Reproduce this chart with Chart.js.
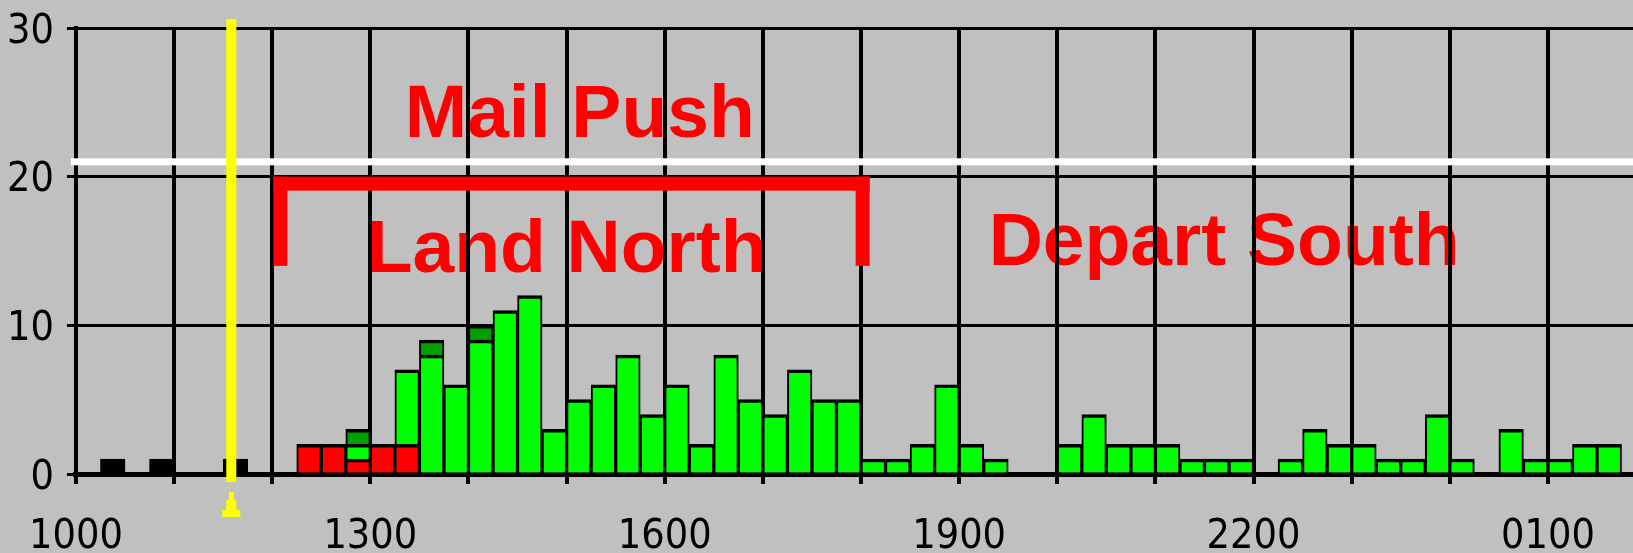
<!DOCTYPE html>
<html>
<head>
<meta charset="utf-8">
<title>Mail Push</title>
<script src="https://cdn.jsdelivr.net/npm/chart.js@4.4.1/dist/chart.umd.min.js"></script>
<style>
  html, body { margin: 0; padding: 0; background: #c0c0c0; }
  canvas { display: block; }
</style>
</head>
<body>
<canvas id="mailChart" width="1633" height="553"></canvas>
<script>
// one value per 15 minute slot, first slot starts at 1000
const hourLabels = ['1000', '1100', '1200', '1300', '1400', '1500', '1600', '1700',
  '1800', '1900', '2000', '2100', '2200', '2300', '0000', '0100'];

const otherFlights = [
  0, 1, 0, 1, 0, 0, 1, 0, 0, 0, 0, 0, 0, 0, 0, 0,
  0, 0, 0, 0, 0, 0, 0, 0, 0, 0, 0, 0, 0, 0, 0, 0,
  0, 0, 0, 0, 0, 0, 0, 0, 0, 0, 0, 0, 0, 0, 0, 0,
  0, 0, 0, 0, 0, 0, 0, 0, 0, 0, 0, 0, 0, 0, 0, 0,
];
const landNorth = [
  0, 0, 0, 0, 0, 0, 0, 0, 0, 2, 2, 1, 2, 2, 0, 0,
  0, 0, 0, 0, 0, 0, 0, 0, 0, 0, 0, 0, 0, 0, 0, 0,
  0, 0, 0, 0, 0, 0, 0, 0, 0, 0, 0, 0, 0, 0, 0, 0,
  0, 0, 0, 0, 0, 0, 0, 0, 0, 0, 0, 0, 0, 0, 0, 0,
];
const departSouth = [
  0, 0, 0, 0, 0, 0, 0, 0, 0, 0, 0, 1, 0, 5, 8, 6,
  9, 11, 12, 3, 5, 6, 8, 4, 6, 2, 8, 5, 4, 7, 5, 5,
  1, 1, 2, 6, 2, 1, 0, 0, 2, 4, 2, 2, 2, 1, 1, 1,
  0, 1, 3, 2, 2, 1, 1, 4, 1, 0, 3, 1, 1, 2, 2, 0,
];
const departSouthLate = [
  0, 0, 0, 0, 0, 0, 0, 0, 0, 0, 0, 1, 0, 0, 1, 0,
  1, 0, 0, 0, 0, 0, 0, 0, 0, 0, 0, 0, 0, 0, 0, 0,
  0, 0, 0, 0, 0, 0, 0, 0, 0, 0, 0, 0, 0, 0, 0, 0,
  0, 0, 0, 0, 0, 0, 0, 0, 0, 0, 0, 0, 0, 0, 0, 0,
];

const capacityLine = 21;      // white line
const nowMinute = 95;         // 1135, yellow marker
const northWindow = [125, 481]; // minutes after 1000
const noteTexts = ['Mail Push', 'Land North', 'Depart South'];

const slot = 15;
const toPoints = (vals) => vals.map((v, i) => ({ x: i * slot + slot / 2, y: v || null }));

function barSet(label, vals, color) {
  return {
    label: label,
    data: toPoints(vals),
    backgroundColor: color,
    borderColor: '#000000',
    borderWidth: { top: 3.5, left: 2, right: 2, bottom: 0 },
    barPercentage: 1,
    categoryPercentage: 1,
  };
}

const axisFont = { family: "'Liberation Sans Narrow', 'DejaVu Sans Condensed', sans-serif", size: 41 };

const backdrop = {
  id: 'backdrop',
  beforeDraw(chart) {
    const { ctx, width, height } = chart;
    const { x, y } = chart.scales;
    ctx.save();
    ctx.fillStyle = '#c0c0c0';
    ctx.fillRect(0, 0, width, height);
    // text sits under the grid, like the original
    ctx.fillStyle = '#ff0000';
    ctx.font = "bold 75px 'Liberation Sans', Arial, sans-serif";
    ctx.textAlign = 'center';
    ctx.textBaseline = 'alphabetic';
    ctx.fillText(noteTexts[0], x.getPixelForValue(308), y.getPixelForValue(22.66));
    ctx.fillText(noteTexts[1], x.getPixelForValue(300), y.getPixelForValue(13.58));
    ctx.fillText(noteTexts[2], x.getPixelForValue(702), y.getPixelForValue(14.06));
    ctx.restore();
  },
};

const overlays = {
  id: 'overlays',
  afterDatasetsDraw(chart) {
    const { ctx, width } = chart;
    const { x, y } = chart.scales;
    ctx.save();

    const ly = y.getPixelForValue(capacityLine);
    ctx.fillStyle = '#ffffff';
    ctx.fillRect(x.left - 5, ly - 3.5, width, 7);

    const bl = x.getPixelForValue(northWindow[0]);
    const br = x.getPixelForValue(northWindow[1]);
    const bt = y.getPixelForValue(20);
    const bb = y.getPixelForValue(14);
    ctx.fillStyle = '#ff0000';
    ctx.fillRect(bl - 7, bt, br - bl + 14, 14);
    ctx.fillRect(bl - 7, bt, 14, bb - bt);
    ctx.fillRect(br - 7, bt, 14, bb - bt);

    const nx = x.getPixelForValue(nowMinute);
    const top = y.getPixelForValue(30) - 9;
    const base = y.getPixelForValue(0);
    ctx.fillStyle = '#ffff00';
    ctx.fillRect(nx - 5, top, 10, base + 8 - top);
    ctx.fillRect(nx - 2.5, base + 18, 5, 8);
    ctx.fillRect(nx - 5, base + 26, 10, 10);
    ctx.fillRect(nx - 9, base + 36, 18, 7);
    ctx.restore();
  },
};

new Chart(document.getElementById('mailChart'), {
  type: 'bar',
  data: {
    datasets: [
      barSet('Other', otherFlights, '#000000'),
      barSet('Land North', landNorth, '#ff0000'),
      barSet('Depart South', departSouth, '#00ff00'),
      barSet('Depart South (late)', departSouthLate, '#00a000'),
    ],
  },
  options: {
    responsive: false,
    animation: false,
    devicePixelRatio: 1,
    layout: { padding: { top: 28, left: 0, right: 0, bottom: 0 } },
    plugins: {
      legend: { display: false },
      tooltip: { enabled: false },
    },
    scales: {
      x: {
        type: 'linear',
        stacked: true,
        offset: false,
        min: 0,
        max: 952,
        afterBuildTicks: (scale) => {
          scale.ticks = hourLabels.map((_, i) => ({ value: i * 60 }));
        },
        afterFit: (scale) => { scale.height = 79; },
        grid: { offset: false, color: '#000000', lineWidth: 4, tickLength: 10 },
        border: { color: '#000000', width: 5 },
        ticks: {
          autoSkip: false,
          maxRotation: 0,
          color: '#000000',
          font: axisFont,
          padding: 29,
          callback: (value, index) => (index % 3 === 0 ? hourLabels[index] : ''),
        },
      },
      y: {
        stacked: true,
        min: 0,
        max: 30,
        afterFit: (scale) => {
          scale.width = 75;
          scale.paddingTop = 0;
          scale.paddingBottom = 0;
        },
        grid: { color: '#000000', lineWidth: 3, tickLength: 9 },
        border: { color: '#000000', width: 4 },
        ticks: {
          stepSize: 10,
          color: '#000000',
          font: axisFont,
          padding: 13,
          labelOffset: 4,
        },
      },
    },
  },
  plugins: [backdrop, overlays],
});
</script>
</body>
</html>
